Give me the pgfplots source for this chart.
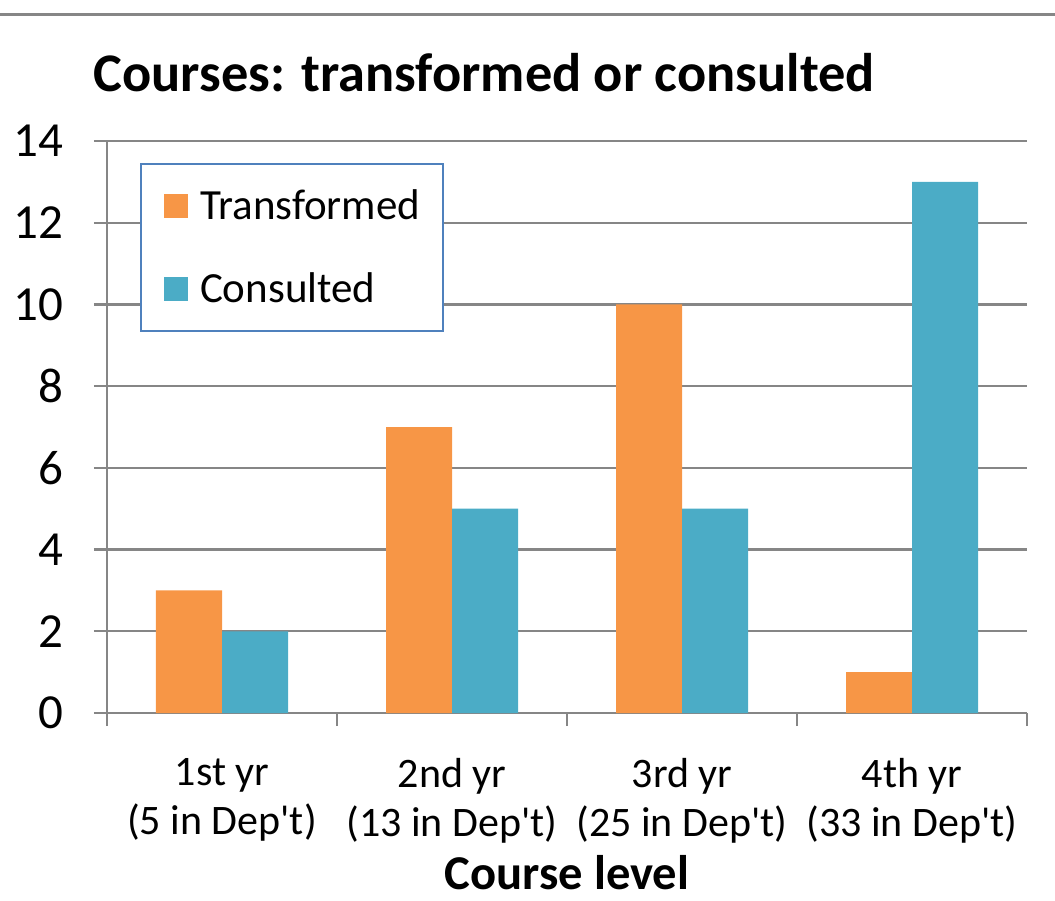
\documentclass[border=0pt]{standalone}
\usepackage{fontspec}
\setmainfont{Carlito}
\usepackage{pgfplots}
\pgfplotsset{compat=1.18}
\definecolor{torange}{RGB}{247,150,70}
\definecolor{cblue}{RGB}{75,172,198}
\definecolor{gridgray}{RGB}{134,134,134}
\definecolor{legblue}{RGB}{79,129,189}
\begin{document}
\begin{tikzpicture}
\useasboundingbox (0,0) rectangle (527.5pt,-450pt);
\draw[gridgray, line width=1.5pt] (0,-7pt) -- (527.5pt,-7pt);
\node[anchor=base west, font=\fontsize{27.2}{33}\selectfont\bfseries, inner sep=0pt] at (46.5pt,-45.5pt) {Courses: transformed or consulted};
\begin{axis}[
  at={(53.5pt,-356.5pt)}, anchor=south west,
  scale only axis, width=460pt, height=286pt,
  xmin=-0.5, xmax=3.5, ymin=0, ymax=14,
  ytick={0,2,...,14},
  xtick={-0.5,0.5,1.5,2.5,3.5},
  x tick label as interval,
  xticklabels={{1st yr\\(5 in Dep\textquotesingle t)},{2nd yr\\(13 in Dep\textquotesingle t)},{3rd yr\\(25 in Dep\textquotesingle t)},{4th yr\\(33 in Dep\textquotesingle t)}},
  axis x line=bottom, axis y line=left,
  axis line style={-, gridgray, line width=1.4pt},
  tick align=outside, major tick length=6.5pt,
  tick style={gridgray, line width=1.2pt},
  ymajorgrids, major grid style={gridgray, line width=1.1pt},
  /pgf/number format/assume math mode=true,
  yticklabel style={font=\fontsize{24.5}{29}\selectfont, anchor=east, inner sep=0pt, xshift=-15pt},
  xticklabel style={font=\fontsize{21}{24.5}\selectfont, align=center, anchor=north, inner sep=0pt, yshift=-16pt},
  ybar=0pt, bar width=33pt,
  legend style={at={(0.0359,0.9615)}, anchor=north west, draw=legblue, line width=1pt,
    inner xsep=11.5pt, inner ysep=10.25pt, row sep=20pt, column sep=6pt,
    font=\fontsize{21.5}{25}\selectfont,
    nodes={inner sep=0pt, text height=17.5pt, text depth=4pt}},
  legend cell align=left,
  legend image code/.code={\fill[#1] (0pt,-6pt) rectangle (12pt,6pt);},
]
\addplot[fill=torange, draw=none, bar shift=-16.5pt] coordinates {(0,3) (1,7) (2,10) (3,1)};
\addplot[fill=cblue, draw=none, bar shift=16.5pt] coordinates {(0,2) (1,5) (2,5) (3,13)};
\legend{Transformed, Consulted}
\end{axis}
\node[anchor=base, font=\fontsize{24.3}{28}\selectfont\bfseries, inner sep=0pt] at (283.5pt,-444.5pt) {Course level};
\end{tikzpicture}
\end{document}
